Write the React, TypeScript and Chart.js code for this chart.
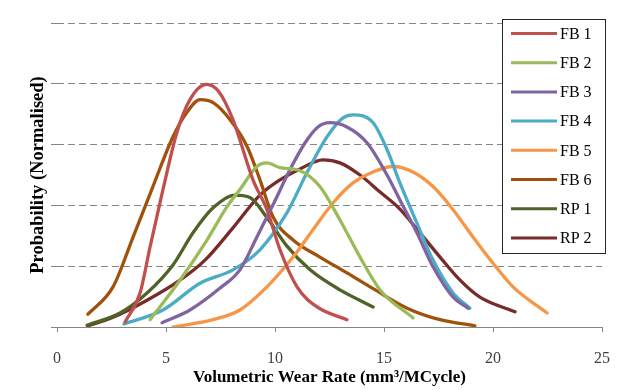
import { useEffect, useRef } from "react";
import { Chart, registerables } from "chart.js";

Chart.register(...registerables);

const seriesLabels = ["FB 1", "FB 2", "FB 3", "FB 4", "FB 5", "FB 6", "RP 1", "RP 2"];
const seriesColors = ["#C0504D", "#9BBB59", "#8064A2", "#4BACC6", "#F79646", "#A0520C", "#4F6228", "#772C2A"];

const xTicks = [0, 5, 10, 15, 20, 25];

// [wear rate, normalised probability]
const fb1: [number, number][] = [
  [3.12, 0.08], [3.81, 0.56], [4.27, 1.32], [4.86, 2.26], [5.5, 3.2], [6.1, 3.74], [6.85, 3.99],
  [7.4, 3.88], [8.07, 3.41], [8.99, 2.42], [9.63, 1.93], [10.23, 1.27], [11.01, 0.66], [11.93, 0.33], [13.3, 0.12],
];
const fb2: [number, number][] = [
  [4.27, 0.12], [5.64, 0.77], [6.88, 1.43], [7.8, 1.98], [8.39, 2.26], [9.17, 2.64], [9.63, 2.7],
  [10.23, 2.62], [11.15, 2.57], [12.06, 2.31], [12.98, 1.76], [13.9, 1.15], [14.82, 0.61], [16.33, 0.15],
];
const fb3: [number, number][] = [
  [4.82, 0.07], [6.1, 0.28], [7.48, 0.64], [8.39, 0.94], [9.17, 1.48], [9.91, 2.01], [10.69, 2.59],
  [11.38, 3.03], [11.97, 3.29], [12.52, 3.36], [13.3, 3.29], [14.22, 3.03], [15.14, 2.5], [15.73, 2.09],
  [16.51, 1.55], [17.25, 0.99], [18.17, 0.49], [18.85, 0.31],
];
const fb4: [number, number][] = [
  [3.07, 0.05], [4.86, 0.28], [6.56, 0.72], [8.07, 0.94], [9.31, 1.27], [10.55, 1.88], [11.47, 2.54],
  [12.39, 3.13], [13.12, 3.44], [13.58, 3.49], [14.5, 3.36], [15.14, 2.92], [15.73, 2.37], [16.51, 1.71],
  [17.25, 1.1], [18.17, 0.56], [18.94, 0.31],
];
const fb5: [number, number][] = [
  [5.32, 0.0], [7.16, 0.12], [8.39, 0.28], [9.63, 0.66], [10.83, 1.15], [11.74, 1.6], [12.66, 2.04],
  [13.58, 2.37], [14.5, 2.55], [15.41, 2.64], [16.33, 2.55], [17.25, 2.31], [18.17, 1.93], [19.08, 1.48],
  [20.0, 1.05], [20.92, 0.66], [22.48, 0.23],
];
const fb6: [number, number][] = [
  [1.42, 0.21], [2.57, 0.66], [3.49, 1.48], [4.4, 2.31], [5.32, 3.13], [5.96, 3.53], [6.56, 3.74],
  [7.16, 3.69], [7.94, 3.41], [8.72, 2.97], [9.31, 2.42], [9.91, 1.81], [10.83, 1.43], [12.06, 1.15],
  [13.3, 0.89], [14.5, 0.63], [16.06, 0.31], [17.57, 0.12], [19.17, 0.02],
];
const rp1: [number, number][] = [
  [1.38, 0.03], [2.89, 0.23], [4.13, 0.56], [5.32, 1.02], [6.24, 1.55], [7.16, 1.96], [8.17, 2.17],
  [8.85, 2.13], [9.63, 1.8], [10.55, 1.33], [11.61, 0.94], [12.98, 0.61], [14.5, 0.33],
];
const rp2: [number, number][] = [
  [1.42, 0.02], [2.57, 0.16], [4.13, 0.44], [5.64, 0.77], [6.79, 1.1], [8.07, 1.63], [9.31, 2.17],
  [10.23, 2.42], [11.15, 2.6], [12.2, 2.75], [12.98, 2.7], [13.9, 2.5], [14.82, 2.22], [15.73, 1.94],
  [16.65, 1.55], [17.57, 1.15], [18.49, 0.77], [19.4, 0.49], [21.01, 0.25],
];

const seriesData = [fb1, fb2, fb3, fb4, fb5, fb6, rp1, rp2];

const SERIF = '"Liberation Serif", "Times New Roman", serif';

const boxLegend = {
  id: "boxLegend",
  afterDraw(chart: any) {
    const ctx = chart.ctx as CanvasRenderingContext2D;
    const x0 = 502.5, y0 = 19.5, w = 103, h = 234;
    ctx.save();
    ctx.fillStyle = "#ffffff";
    ctx.fillRect(x0, y0, w, h);
    ctx.strokeStyle = "#262626";
    ctx.lineWidth = 1;
    ctx.strokeRect(x0, y0, w, h);
    chart.data.datasets.forEach((ds: any, i: number) => {
      const y = 33.5 + i * 29.2;
      ctx.strokeStyle = ds.borderColor;
      ctx.lineWidth = 3;
      ctx.lineCap = "butt";
      ctx.beginPath();
      ctx.moveTo(511, y);
      ctx.lineTo(557, y);
      ctx.stroke();
      ctx.fillStyle = "#000000";
      ctx.font = `16px ${SERIF}`;
      ctx.textBaseline = "middle";
      ctx.textAlign = "left";
      ctx.fillText(ds.label, 560, y + 1);
    });
    ctx.restore();
  },
};

export default function App() {
  const ref = useRef<HTMLCanvasElement | null>(null);
  useEffect(() => {
    if (!ref.current) return;
    const chart = new Chart(ref.current, {
      type: "line",
      data: {
        datasets: seriesLabels.map((label, i) => ({
          label,
          data: seriesData[i].map(([x, y]) => ({ x, y })),
          borderColor: seriesColors[i],
          backgroundColor: seriesColors[i],
          borderWidth: 3.3,
          pointRadius: 0,
          cubicInterpolationMode: "monotone" as const,
          borderCapStyle: "round" as const,
          borderJoinStyle: "round" as const,
          fill: false,
        })),
      },
      options: {
        animation: false,
        responsive: false,
        maintainAspectRatio: false,
        layout: { padding: { left: 0, top: 23, right: 16, bottom: 0 } },
        plugins: { legend: { display: false }, tooltip: { enabled: false } },
        scales: {
          x: {
            type: "linear",
            min: 0,
            max: 25,
            afterBuildTicks: (scale: any) => {
              scale.ticks = xTicks.map((v) => ({ value: v }));
            },
            afterFit: (scale: any) => {
              scale.height = 63;
              scale.paddingLeft = 0;
              scale.paddingRight = 0;
            },
            grid: { drawOnChartArea: false, drawTicks: true, tickLength: 5, tickColor: "#868686", color: "#868686" },
            border: { display: true, color: "#868686", width: 1 },
            ticks: {
              font: { family: SERIF, size: 16 },
              color: "#404040",
              padding: 17,
              maxRotation: 0,
            },
            title: {
              display: true,
              text: "Volumetric Wear Rate (mm³/MCycle)",
              font: { family: SERIF, size: 17, weight: "bold" },
              color: "#000000",
              padding: { top: 0, bottom: 2 },
            },
          },
          y: {
            type: "linear",
            min: 0,
            max: 5,
            afterFit: (scale: any) => {
              scale.width = 57;
              scale.paddingTop = 0;
              scale.paddingBottom = 0;
            },
            ticks: { display: false, stepSize: 1 },
            grid: {
              drawTicks: true,
              tickLength: 6,
              tickColor: "#868686",
              color: (c: any) => (c.tick && c.tick.value === 0 ? "rgba(0,0,0,0)" : "#868686"),
            },
            border: { display: false, dash: [7, 4] },
            title: {
              display: true,
              text: "Probability (Normalised)",
              font: { family: SERIF, size: 18.5, weight: "bold" },
              color: "#000000",
              padding: { top: 27, bottom: 0 },
            },
          },
        },
      },
      plugins: [boxLegend],
    });
    return () => chart.destroy();
  }, []);
  return (
    <div style={{ position: "absolute", left: 0, top: 0, width: 618, height: 390, background: "#fff" }}>
      <canvas ref={ref} width={618} height={390} style={{ width: 618, height: 390 }} />
    </div>
  );
}
